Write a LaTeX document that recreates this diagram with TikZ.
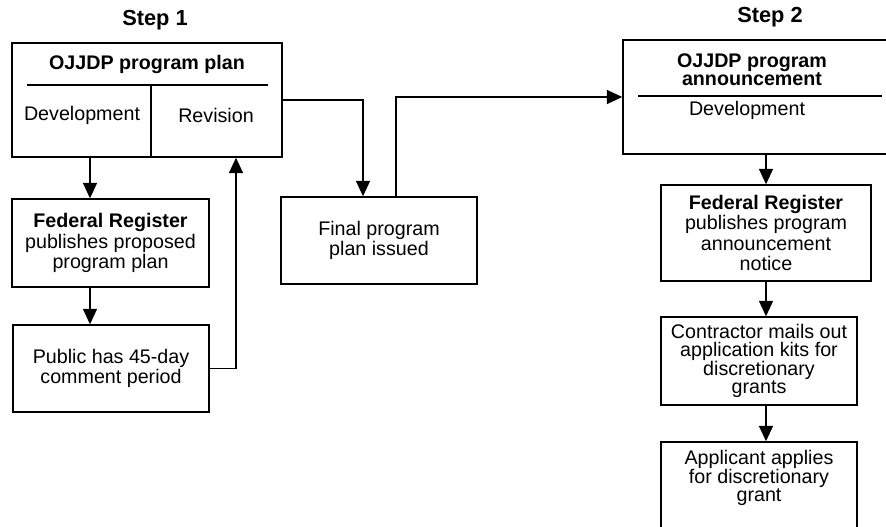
\documentclass[tikz,border=0pt]{standalone}
\usepackage{fontspec}
\setmainfont{Liberation Sans}
\usetikzlibrary{arrows.meta}

\begin{document}
\begin{tikzpicture}[x=0.025cm, y=-0.025cm, line width=1pt,
  box/.style={draw, rectangle, inner sep=0pt, align=center},
  txt/.style={align=center, inner sep=0pt, font=\fontsize{14}{14.5}\selectfont},
  tight/.style={align=center, inner sep=0pt, font=\fontsize{14}{12.8}\selectfont},
  head/.style={align=center, inner sep=0pt, font=\fontsize{14}{11.8}\selectfont\bfseries},
  steptitle/.style={inner sep=0pt, font=\fontsize{15.5}{17}\selectfont\bfseries},
  arr/.style={-{Triangle[length=11pt,width=10pt]}}]
\useasboundingbox (0,0) rectangle (886,526);

% step 1
\node[steptitle] (stepone) at (155,20) {Step 1};
\node[box, minimum width=6.75cm, minimum height=2.85cm] (plan) at (147,100) {};
\node[head] (plantitle) at (147,64) {OJJDP program plan};
\draw (27,85) -- (268,85);
\draw (151,85) -- (151,157);
\node[txt] (plandev) at (82,115) {Development};
\node[txt] (planrev) at (216,115) {Revision};

\node[box, txt, minimum width=4.925cm, minimum height=2.2cm] (fedplan) at (110.5,243)
  {\textbf{Federal Register}\\publishes proposed\\program plan};
\node[box, txt, minimum width=4.9cm, minimum height=2.175cm] (comment) at (111,368.5)
  {Public has 45-day\\comment period};
\node[box, txt, minimum width=4.9cm, minimum height=2.175cm] (final) at (379,240.5)
  {Final program\\plan issued};

\coordinate (leftx) at (90,0);
\coordinate (backx) at (236,0);
\coordinate (finx) at (363,0);
\coordinate (outx) at (396,0);

\draw[arr] (plan.south -| leftx) -- (fedplan.north -| leftx);
\draw[arr] (fedplan.south -| leftx) -- (comment.north -| leftx);
\draw[arr] (comment.east) -| (plan.south -| backx);
\draw[arr] (plan.east) -| (final.north -| finx);

% step 2
\node[steptitle] (steptwo) at (770,17) {Step 2};
\node[box, minimum width=6.675cm, minimum height=2.85cm] (ann) at (756.5,97) {};
\node[head] (anntitle) at (752,70) {OJJDP program\\announcement};
\draw (638,96) -- (882,96);
\node[txt] (anndev) at (747,110) {Development};

\draw[arr] (final.north -| outx) |- (ann.west);

\node[box, txt, minimum width=5.25cm, minimum height=2.4cm] (fedann) at (766,233)
  {\textbf{Federal Register}\\publishes program\\announcement\\notice};
\node[box, tight, minimum width=4.9cm, minimum height=2.2cm] (kits) at (759,361)
  {Contractor mails out\\application kits for\\discretionary\\grants};
\node[box, minimum width=4.9cm, minimum height=2.45cm] (apply) at (759,491) {};
\node[tight] (applytext) at (759,478) {Applicant applies\\for discretionary\\grant};

\draw[arr] (ann.south -| fedann.north) -- (fedann.north);
\draw[arr] (fedann.south) -- (kits.north -| fedann.south);
\draw[arr] (kits.south -| fedann.south) -- (apply.north -| fedann.south);
\end{tikzpicture}
\end{document}
